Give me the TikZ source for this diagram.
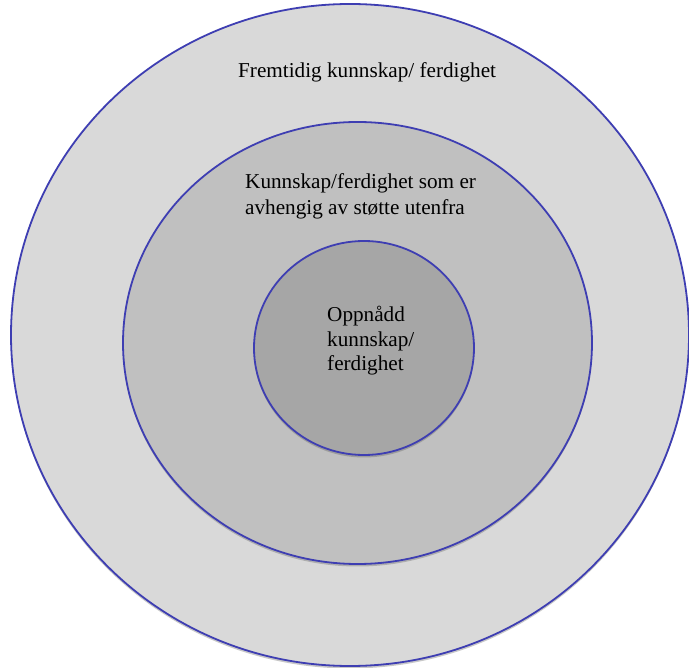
\documentclass[tikz,border=0pt]{standalone}
\usepackage{fontspec}
\setmainfont{Liberation Serif}
\usetikzlibrary{shapes.geometric,shadows}
\definecolor{ringblue}{RGB}{62,62,178}
\definecolor{outerfill}{RGB}{217,217,217}
\definecolor{midfill}{RGB}{192,192,192}
\definecolor{innerfill}{RGB}{166,166,166}
\tikzset{
  ring/.style={ellipse, draw=ringblue, line width=1.8pt, inner sep=0pt,
    drop shadow={shadow xshift=0pt, shadow yshift=-2.5pt, opacity=0.3, fill=black!70}},
  lbl/.style={anchor=base west, inner sep=0pt, font=\fontsize{21.2}{25}\selectfont, text=black}
}
\begin{document}
\begin{tikzpicture}[x=1pt,y=-1pt]
\useasboundingbox (0,0) rectangle (689,668);
\fill[white] (0,0) rectangle (689,668);
\node[ring, fill=outerfill, minimum width=678pt, minimum height=662pt] (outer) at (350,335) {};
\node[ring, fill=midfill, minimum width=469pt, minimum height=442pt] (mid) at (357.5,343) {};
\node[ring, fill=innerfill, minimum width=220pt, minimum height=214pt] (inner) at (364,348) {};
\node[lbl] (t1) at (238,78) {Fremtidig kunnskap/ ferdighet};
\node[lbl] (t2a) at (245,189) {Kunnskap/ferdighet som er};
\node[lbl] (t2b) at (245,215) {avhengig av støtte utenfra};
\node[lbl] (t3a) at (327,322) {Oppnådd};
\node[lbl] (t3b) at (327,347) {kunnskap/};
\node[lbl] (t3c) at (327,371) {ferdighet};
\end{tikzpicture}
\end{document}
